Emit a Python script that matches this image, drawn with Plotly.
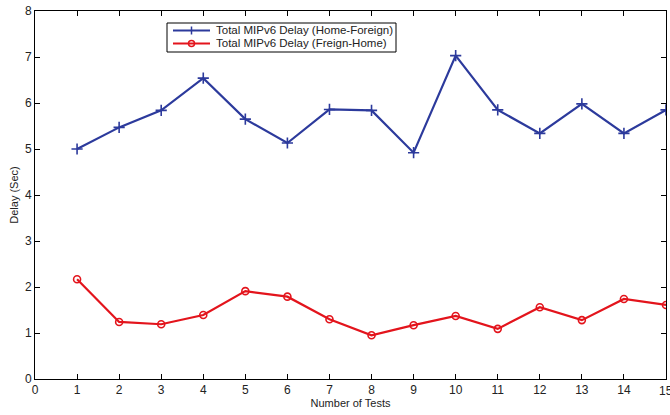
import plotly.graph_objects as go

# Test index and measured handover delays (seconds)
tests = list(range(1, 16))
home_to_foreign = [5.0, 5.47, 5.84, 6.54, 5.65, 5.13, 5.86, 5.84, 4.92,
                   7.03, 5.85, 5.34, 5.98, 5.34, 5.85]
foreign_to_home = [2.17, 1.24, 1.19, 1.39, 1.91, 1.79, 1.30, 0.95, 1.17,
                   1.37, 1.09, 1.56, 1.28, 1.74, 1.61]

series_names = ["Total MIPv6 Delay (Home-Foreign)",
                "Total MIPv6 Delay (Freign-Home)"]
x_ticks = list(range(0, 16))
y_ticks = list(range(0, 9))

BLUE = "#2c3a9c"
RED = "#e3141c"
FONT = "Liberation Sans, Arial, sans-serif"

W, H = 670, 415
M = dict(l=35, r=4, t=11, b=36)
PW, PH = W - M["l"] - M["r"], H - M["t"] - M["b"]


def px(xp):
    """page x pixel -> paper x"""
    return (xp - M["l"]) / PW


def py(yp):
    """page y pixel -> paper y"""
    return (H - M["b"] - yp) / PH


fig = go.Figure()
fig.add_trace(go.Scatter(
    x=tests, y=home_to_foreign, name=series_names[0], mode="lines+markers",
    line=dict(color=BLUE, width=2.2),
    marker=dict(symbol="cross-thin", size=8, line=dict(color=BLUE, width=1.6)),
    showlegend=False,
))
fig.add_trace(go.Scatter(
    x=tests, y=foreign_to_home, name=series_names[1], mode="lines+markers",
    line=dict(color=RED, width=2.2),
    marker=dict(symbol="circle-open", size=7, color=RED, line=dict(color=RED, width=1.6)),
    showlegend=False,
))

axis_common = dict(
    showline=True, linecolor="black", linewidth=1, mirror="allticks",
    ticks="inside", ticklen=5, tickcolor="black", tickwidth=1,
    showgrid=False, zeroline=False,
    tickfont=dict(family=FONT, size=12, color="#222"),
)

# Compact boxed legend in the upper-left of the axes
box = dict(x0=167, x1=396, y0=23, y1=52)
rows_y = [30.5, 43.5]
sample_x0, sample_x1, text_x = 173, 210, 214
shapes = [dict(type="rect", xref="paper", yref="paper",
               x0=px(box["x0"]), x1=px(box["x1"]), y0=py(box["y1"]), y1=py(box["y0"]),
               line=dict(color="black", width=1), fillcolor="white", layer="above")]
annotations = []
colors = [BLUE, RED]
for i, (name, col) in enumerate(zip(series_names, colors)):
    yy = py(rows_y[i])
    xm = px((sample_x0 + sample_x1) / 2)
    shapes.append(dict(type="line", xref="paper", yref="paper",
                       x0=px(sample_x0), x1=px(sample_x1), y0=yy, y1=yy,
                       line=dict(color=col, width=2), layer="above"))
    if i == 0:
        shapes.append(dict(type="line", xref="paper", yref="paper",
                           xsizemode="pixel", ysizemode="pixel", xanchor=xm, yanchor=yy,
                           x0=0, x1=0, y0=-4, y1=4,
                           line=dict(color=col, width=1.5), layer="above"))
    else:
        shapes.append(dict(type="circle", xref="paper", yref="paper",
                           xsizemode="pixel", ysizemode="pixel", xanchor=xm, yanchor=yy,
                           x0=-3, x1=3, y0=-3, y1=3,
                           line=dict(color=col, width=1.5), layer="above"))
    annotations.append(dict(xref="paper", yref="paper", x=px(text_x), y=yy,
                            xanchor="left", yanchor="middle", showarrow=False,
                            text=name, font=dict(family=FONT, size=11.5, color="#222")))

# last x tick label sits on the page edge
annotations.append(dict(xref="x", yref="paper", x=15, y=0, yshift=-3,
                        xanchor="center", yanchor="top", showarrow=False,
                        text=str(x_ticks[-1]), font=dict(family=FONT, size=12, color="#222")))

fig.update_layout(
    width=W, height=H,
    margin=M,
    paper_bgcolor="white", plot_bgcolor="white",
    font=dict(family=FONT, size=11, color="#222"),
    xaxis=dict(range=[0, 15], tickvals=x_ticks, **axis_common,
               title=dict(text="Number of Tests", font=dict(size=11), standoff=2)),
    yaxis=dict(range=[0, 8], tickvals=y_ticks, **axis_common,
               title=dict(text="Delay (Sec)", font=dict(size=11), standoff=4)),
    shapes=shapes,
    annotations=annotations,
    showlegend=False,
)

fig.write_html("out.html")
